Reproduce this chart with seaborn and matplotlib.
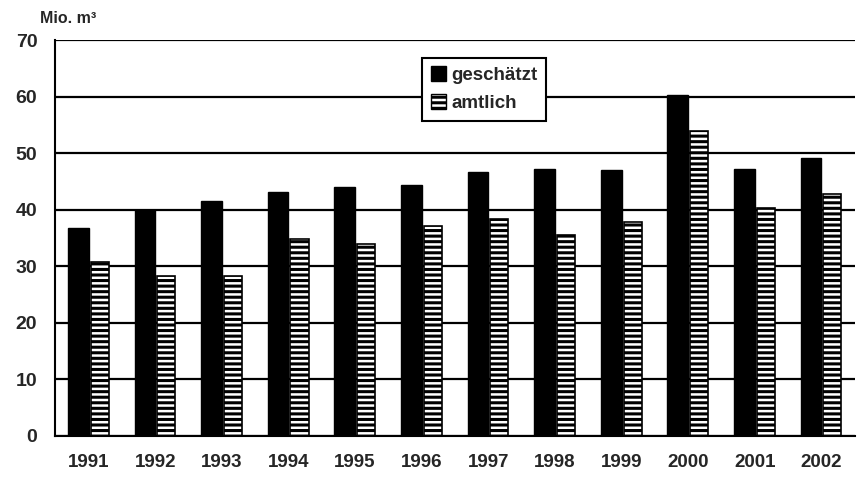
import pandas as pd
import seaborn as sns
import matplotlib.pyplot as plt
from matplotlib.patches import Patch

# values (Mio. m³)
years = ["1991", "1992", "1993", "1994", "1995", "1996",
         "1997", "1998", "1999", "2000", "2001", "2002"]
geschaetzt = [36.7, 40.0, 41.6, 43.1, 44.0, 44.3, 46.6, 47.2, 47.1, 60.3, 47.3, 49.1]
amtlich = [30.8, 28.3, 28.3, 34.8, 34.0, 37.2, 38.3, 35.6, 37.9, 54.0, 40.3, 42.8]
series = ["geschätzt", "amtlich"]
y_ticks = [0, 10, 20, 30, 40, 50, 60, 70]

df = pd.DataFrame({
    "Jahr": years * 2,
    "Wert": geschaetzt + amtlich,
    "Art": [series[0]] * len(years) + [series[1]] * len(years),
})

sns.set_style("white")
plt.rcParams["font.family"] = ["Liberation Sans", "DejaVu Sans"]
plt.rcParams["font.weight"] = "bold"
plt.rcParams["hatch.linewidth"] = 2.2
plt.rcParams["hatch.color"] = "black"

fig = plt.figure(figsize=(8.65, 4.79), dpi=100)
ax = fig.add_axes([0.064, 0.09, 0.924, 0.826])

sns.barplot(data=df, x="Jahr", y="Wert", hue="Art", order=years,
            hue_order=series, palette=["black", "white"], width=0.62,
            saturation=1, legend=False, ax=ax)

# amtlich: white with horizontal black stripes, a little narrower
for bar in ax.containers[1]:
    bar.set_hatch("---")
    bar.set_edgecolor("black")
    bar.set_linewidth(1.2)
    w = bar.get_width()
    bar.set_x(bar.get_x() + 0.03)
    bar.set_width(w * 0.88)
for bar in ax.containers[0]:
    bar.set_edgecolor("black")

ax.set_ylim(0, 70)
ax.set_xlim(-0.5, len(years) - 0.5)
ax.set_yticks(y_ticks)
ax.set_yticklabels([str(v) for v in y_ticks], fontsize=14, fontweight="bold")
ax.set_xticks(range(len(years)))
ax.set_xticklabels(years, fontsize=13.5, fontweight="bold")
ax.set_xticks([i - 0.5 for i in range(len(years) + 1)], minor=True)
ax.tick_params(axis="x", which="major", length=0, pad=13)
ax.tick_params(axis="x", which="minor", length=6, width=1.5, color="black", direction="out")
ax.tick_params(axis="y", length=5, width=1.5, color="black", direction="out", pad=8)
ax.set_xlabel("")
ax.set_ylabel("")

ax.yaxis.grid(True, color="black", linewidth=1.6)
ax.set_axisbelow(True)
for side in ["top", "right"]:
    ax.spines[side].set_visible(False)
for side in ["left", "bottom"]:
    ax.spines[side].set_color("black")
    ax.spines[side].set_linewidth(1.5)

fig.text(0.046, 0.952, "Mio. m³", fontsize=11.5, fontweight="bold")

handles = [
    Patch(facecolor="black", edgecolor="black", label=series[0]),
    Patch(facecolor="white", edgecolor="black", hatch="---", label=series[1]),
]
leg = ax.legend(handles=handles, loc="upper left", bbox_to_anchor=(0.459, 0.955),
                frameon=True, fancybox=False, framealpha=1, edgecolor="black",
                prop={"size": 13.5, "weight": "bold"}, handlelength=0.8,
                handleheight=0.8, handletextpad=0.3, borderpad=0.45,
                labelspacing=0.55, borderaxespad=0)
leg.get_frame().set_linewidth(1.5)

fig.savefig("out.png", dpi=100)
